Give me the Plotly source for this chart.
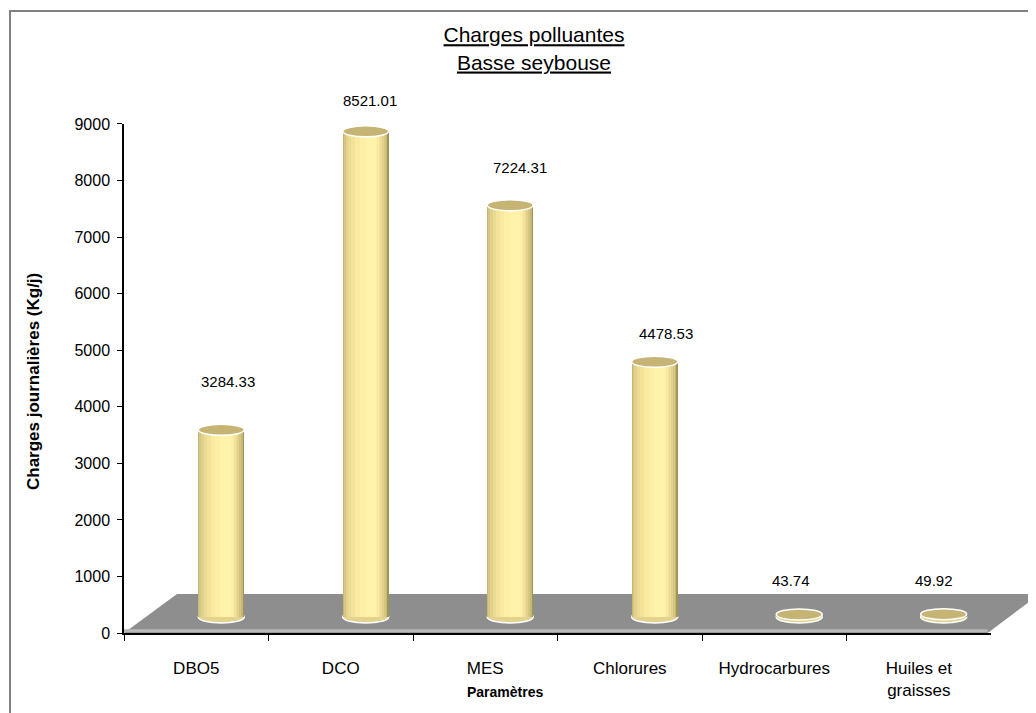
import plotly.graph_objects as go

# données
categories = ['DBO5', 'DCO', 'MES', 'Chlorures', 'Hydrocarbures', 'Huiles et<br>graisses']
charges = [3284.33, 8521.01, 7224.31, 4478.53, 43.74, 49.92]
y_ticks = [0, 1000, 2000, 3000, 4000, 5000, 6000, 7000, 8000, 9000]

FONT = 'Liberation Sans, Arial, sans-serif'

# position of the value labels relative to the top of each cylinder (pixels)
label_dx = [7, 4, 10, 11, -8, -10]
label_dy = [48, 31, 38, 28, 34, 34]

# layers used to fake the shading of the cylinders (left edge, right edge, colour)
shade = [
    (-0.159, 0.159, '#A39357'),
    (-0.159, 0.150, '#C6B677'),
    (-0.152, 0.138, '#D6C683'),
    (-0.140, 0.125, '#E1D18B'),
    (-0.122, 0.112, '#EBDB93'),
    (-0.100, 0.100, '#F3E39A'),
    (-0.072, 0.090, '#F9EAA0'),
    (-0.040, 0.080, '#FDEFA5'),
    (-0.008, 0.068, '#FFF3AB'),
]

fig = go.Figure()

# invisible trace to build the category axis
fig.add_trace(go.Bar(x=categories, y=charges,
                     marker=dict(color='rgba(0,0,0,0)', line=dict(width=0)),
                     hoverinfo='skip', showlegend=False))

# cylinders, on a second set of axes pushed back into the "depth"
for left, right, col in shade:
    fig.add_trace(go.Bar(x=categories, y=charges, width=right - left, offset=left,
                         marker=dict(color=col, line=dict(width=0)),
                         xaxis='x2', yaxis='y2', showlegend=False,
                         hovertemplate='%{x}: %{y}<extra></extra>'))

shapes = []
# frame
shapes.append(dict(type='rect', xref='paper', yref='paper', x0=-0.125, x1=1.2,
                   y0=-0.3, y1=1.1455, line=dict(color='#808080', width=2),
                   fillcolor='rgba(0,0,0,0)', layer='below'))
# floor
shapes.append(dict(type='path', xref='paper', yref='paper',
                   path='M 0 0 L 0.947 0 L 1.004 0.0718 L 0.0581 0.0718 Z',
                   fillcolor='#8E8E8E', line=dict(width=0), layer='below'))
shapes.append(dict(type='line', xref='paper', yref='paper', x0=0.0, x1=0.947,
                   y0=0.004, y1=0.004, line=dict(color='#B8B8B8', width=3),
                   layer='below'))

for i, v in enumerate(charges):
    # bottom of the cylinder
    shapes.append(dict(type='circle', xref='x2', yref='y2', xsizemode='pixel',
                       ysizemode='pixel', xanchor=i, yanchor=0,
                       x0=-23, x1=23, y0=-6, y1=6,
                       fillcolor='#E3D38D', line=dict(color='white', width=1.5),
                       layer='below'))
    # top of the cylinder
    shapes.append(dict(type='circle', xref='x2', yref='y2', xsizemode='pixel',
                       ysizemode='pixel', xanchor=i, yanchor=v,
                       x0=-23, x1=23, y0=-5.5, y1=5.5,
                       fillcolor='#C6B475', line=dict(color='white', width=1.5),
                       layer='above'))

annotations = []
for i, v in enumerate(charges):
    annotations.append(dict(xref='x2', yref='y2', x=i, y=v, text=f'{v:.2f}',
                            showarrow=False, xshift=label_dx[i], yshift=label_dy[i],
                            xanchor='center', yanchor='middle',
                            font=dict(family=FONT, size=15, color='black')))

annotations.append(dict(xref='paper', yref='paper', x=-0.0998, y=0.464,
                        xanchor='center', yanchor='middle',
                        text='<b>Charges journalières (Kg/j)</b>', textangle=-90,
                        showarrow=False, font=dict(family=FONT, size=17, color='black')))
annotations.append(dict(xref='paper', yref='paper', x=0.4178, y=-0.1087,
                        xanchor='center', yanchor='middle',
                        text='<b>Paramètres</b>', showarrow=False,
                        font=dict(family=FONT, size=14, color='black')))

fig.update_layout(
    width=1036, height=713,
    margin=dict(l=116, r=8, t=82, b=88),
    paper_bgcolor='white', plot_bgcolor='rgba(0,0,0,0)',
    barmode='overlay', bargap=0,
    title=dict(text='<u>Charges polluantes</u><br><u>Basse seybouse</u>',
               xref='container', x=0.5077, xanchor='center',
               yref='container', y=0.952, yanchor='top',
               font=dict(family=FONT, size=21, color='black')),
    font=dict(family=FONT, size=14, color='black'),
    xaxis=dict(domain=[0, 0.9507], type='category', showgrid=False,
               showline=True, linecolor='black', linewidth=1.5,
               ticks='outside', tickson='boundaries', ticklen=6,
               tickcolor='black', ticklabelstandoff=19,
               tickfont=dict(family=FONT, size=17, color='black')),
    yaxis=dict(domain=[0, 0.9374], range=[0, 9000], tickvals=y_ticks,
               showgrid=False, zeroline=False, showline=True,
               linecolor='black', linewidth=1.5, ticks='outside', ticklen=5,
               tickcolor='black', ticklabelstandoff=4,
               tickfont=dict(family=FONT, size=16, color='black')),
    xaxis2=dict(domain=[0.0274, 0.978], type='category', anchor='y2',
                visible=False, showgrid=False),
    yaxis2=dict(domain=[0, 0.9742], range=[-281, 9000], anchor='x2',
                visible=False, showgrid=False, zeroline=False),
    shapes=shapes,
    annotations=annotations,
)

fig.write_html('out.html')
